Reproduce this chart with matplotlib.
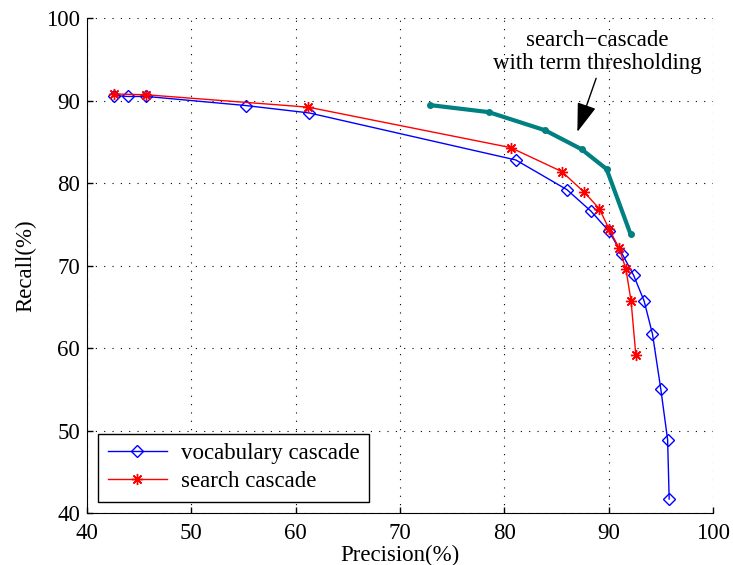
import matplotlib
matplotlib.use('Agg')
import matplotlib.pyplot as plt

# vocabulary cascade
vocab_precision = [42.6, 43.9, 45.7, 55.2, 61.3, 81.1, 86.0, 88.3, 90.0, 91.3, 92.4, 93.4, 94.2, 95.0, 95.65, 95.8]
vocab_recall = [90.6, 90.5, 90.5, 89.4, 88.5, 82.8, 79.2, 76.6, 74.2, 71.4, 68.8, 65.7, 61.7, 55.0, 48.9, 41.7]

# search cascade
search_precision = [42.6, 45.7, 61.2, 80.6, 85.5, 87.65, 89.1, 90.05, 91.0, 91.65, 92.15, 92.6]
search_recall = [90.8, 90.7, 89.2, 84.3, 81.4, 78.9, 76.9, 74.4, 72.1, 69.6, 65.7, 59.2]

# search-cascade with term thresholding
thresh_precision = [72.9, 78.5, 83.9, 87.4, 89.8, 92.1]
thresh_recall = [89.45, 88.6, 86.4, 84.1, 81.7, 73.8]

plt.rcParams['font.family'] = ['Liberation Serif', 'DejaVu Serif']
plt.rcParams['font.size'] = 16.5

fig = plt.figure(figsize=(7.33, 5.65), dpi=100)
ax = fig.add_axes([0.1187, 0.092, 0.854, 0.876])

ax.plot(vocab_precision, vocab_recall, color='b', linewidth=1, marker='D',
        markersize=6.5, markerfacecolor='none', markeredgecolor='b',
        markeredgewidth=1, label='vocabulary cascade')
ax.plot(search_precision, search_recall, color='r', linewidth=1, marker=(8, 2, 0),
        markersize=8, markeredgewidth=1, label='search cascade')
ax.plot(thresh_precision, thresh_recall, color='#008080', linewidth=3,
        marker='o', markersize=4)

ax.text(88.9, 95.9, 'search\u2212cascade\nwith term thresholding', ha='center',
        va='center', linespacing=1.15)
ax.annotate('', xy=(87.0, 86.2), xytext=(88.8, 92.7),
            arrowprops=dict(arrowstyle='-|>,head_length=0.9,head_width=0.3',
                            color='k', lw=1, mutation_scale=20,
                            shrinkA=0, shrinkB=0))

ax.set_xlim(40, 100)
ax.set_ylim(40, 100)
ax.set_xticks(range(40, 101, 10))
ax.set_yticks(range(40, 101, 10))
ax.grid(True, color='k', linestyle=(0, (1, 6.5)), linewidth=0.8)
ax.tick_params(direction='in', length=4, width=1, pad=5)
ax.tick_params(axis='x', pad=7)
ax.spines['top'].set_visible(False)
ax.spines['right'].set_visible(False)
ax.set_xlabel('Precision(%)', labelpad=1)
ax.set_ylabel('Recall(%)', labelpad=7)

leg = ax.legend(loc='lower left', fancybox=False, edgecolor='k', framealpha=1,
                borderaxespad=0.5, handlelength=2.6, borderpad=0.4,
                labelspacing=0.3, handletextpad=0.6)
leg.get_frame().set_linewidth(1)

fig.savefig('out.png', dpi=100)
